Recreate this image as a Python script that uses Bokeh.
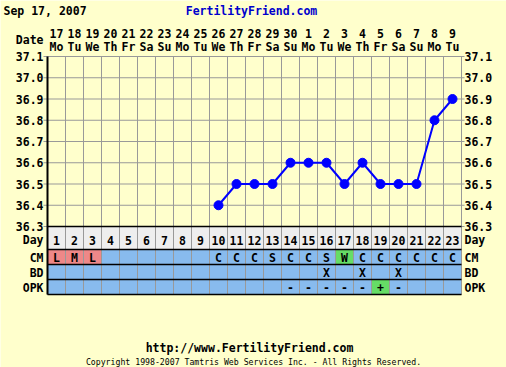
from bokeh.plotting import figure
from bokeh.models import ColumnDataSource
from bokeh.core.properties import value
from bokeh.embed import file_html
from bokeh.resources import INLINE

# ---------------- data ----------------
chart_date = "Sep 17, 2007"
site_name = "FertilityFriend.com"
site_url = "http://www.FertilityFriend.com"
copyright_text = "Copyright 1998-2007 Tamtris Web Services Inc. - All Rights Reserved."
date_header = "Date"

cycle_days = list(range(1, 24))
dates = ["17", "18", "19", "20", "21", "22", "23", "24", "25", "26", "27", "28",
         "29", "30", "1", "2", "3", "4", "5", "6", "7", "8", "9"]
weekdays = ["Mo", "Tu", "We", "Th", "Fr", "Sa", "Su", "Mo", "Tu", "We", "Th", "Fr",
            "Sa", "Su", "Mo", "Tu", "We", "Th", "Fr", "Sa", "Su", "Mo", "Tu"]

temp_days = [10, 11, 12, 13, 14, 15, 16, 17, 18, 19, 20, 21, 22, 23]
temps = [36.4, 36.5, 36.5, 36.5, 36.6, 36.6, 36.6, 36.5, 36.6, 36.5, 36.5, 36.5, 36.8, 36.9]

temp_ticks = [36.3, 36.4, 36.5, 36.6, 36.7, 36.8, 36.9, 37.0, 37.1]
temp_tick_labels = ["36.3", "36.4", "36.5", "36.6", "36.7", "36.8", "36.9", "37.0", "37.1"]

row_names = ["Day", "CM", "BD", "OPK"]
cm_values = ["L", "M", "L", "", "", "", "", "", "", "C", "C", "C", "S", "C", "C", "S",
             "W", "C", "C", "C", "C", "C", "C"]
bd_values = ["", "", "", "", "", "", "", "", "", "", "", "", "", "", "", "X",
             "", "X", "", "X", "", "", ""]
opk_values = ["", "", "", "", "", "", "", "", "", "", "", "", "", "-", "-", "-",
              "-", "-", "+", "-", "", "", ""]

# ---------------- styles / geometry ----------------
BG = "#FFFFCC"
GRID = "#999999"
BLUE_ROW = "#88BBEE"
DAY_ROW = "#EEEEEE"
CELL_COLORS = {"L": "#EE8888", "M": "#EE8888", "W": "#66DD66", "+": "#66DD66"}
FONT = value("DejaVu Sans Mono")
FS = "11.5px"

W, H = 506, 367
LEFT, RIGHT, TOP = 47, 461, 56                      # chart area in pixels
PX_PER_DEG = (226 - 56) / 0.8                        # 36.3 at y=226, 37.1 at y=56
COL_W = (RIGHT - LEFT) / 23.0


def yp(py):
    return 37.1 - (py - TOP) / PX_PER_DEG


def xp(px):
    return 0.5 + (px - LEFT) / COL_W


row_edges_px = [226, 249, 264, 279, 294]
row_top = [yp(v) for v in row_edges_px[:-1]]
row_bot = [yp(v) for v in row_edges_px[1:]]
row_center = [yp((a + b) / 2 + (2 if i == 0 else 0.5))
              for i, (a, b) in enumerate(zip(row_edges_px[:-1], row_edges_px[1:]))]

p = figure(width=W, height=H, x_range=(xp(0), xp(W)), y_range=(yp(H), yp(0)),
           output_backend="svg", toolbar_location=None, title=None,
           x_axis_type=None, y_axis_type=None, min_border=0)
p.background_fill_color = BG
p.border_fill_color = BG
p.outline_line_color = None
p.grid.visible = False

t_lo, t_hi = temp_ticks[0], temp_ticks[-1]

# chart grid
bounds = [d + 0.5 for d in cycle_days]
p.segment(x0=bounds, x1=bounds, y0=[t_lo] * len(bounds), y1=[t_hi] * len(bounds),
          line_color=GRID, line_width=1)
p.segment(x0=[xp(43)] * len(temp_ticks), x1=[xp(464)] * len(temp_ticks),
          y0=temp_ticks, y1=temp_ticks, line_color=GRID, line_width=1)

# table cells
rows_vals = [[str(d) for d in cycle_days], cm_values, bd_values, opk_values]
cx, ctop, cbot, ccol, ctext, cy = [], [], [], [], [], []
for r, vals in enumerate(rows_vals):
    for d, v in zip(cycle_days, vals):
        cx.append(d)
        ctop.append(row_top[r])
        cbot.append(row_bot[r])
        cy.append(row_center[r])
        ctext.append(v)
        ccol.append(DAY_ROW if r == 0 else CELL_COLORS.get(v, BLUE_ROW))

src = ColumnDataSource(dict(left=[x - 0.5 for x in cx], right=[x + 0.5 for x in cx],
                            top=ctop, bottom=cbot, color=ccol, x=cx, y=cy, text=ctext))
p.quad(left="left", right="right", top="top", bottom="bottom", fill_color="color",
       line_color=GRID, line_width=1, source=src)

# table row separators and left border
edges_y = [yp(v) for v in row_edges_px]
p.segment(x0=[0.5] * len(edges_y), x1=[23.5] * len(edges_y), y0=edges_y, y1=edges_y,
          line_color="black", line_width=1.5)
p.segment(x0=[0.5], x1=[0.5], y0=[edges_y[-1]], y1=[t_hi], line_color="black",
          line_width=2)

p.text(x="x", y="y", text="text", source=src, text_font=FONT, text_font_style="bold",
       text_font_size=FS, text_align="center", text_baseline="middle",
       text_color="black")

# temperature line
p.line(temp_days, temps, line_color="#0000FF", line_width=2)
p.scatter(temp_days, temps, marker="circle", size=9, fill_color="#0000FF",
          line_color="#0000FF")

txt = dict(text_font=FONT, text_font_style="bold", text_font_size=FS,
           text_baseline="middle", text_color="black")

# temperature tick labels, both sides
p.text(x=[xp(43)] * len(temp_ticks), y=temp_ticks, text=temp_tick_labels,
       text_align="right", **txt)
p.text(x=[xp(464)] * len(temp_ticks), y=temp_ticks, text=temp_tick_labels,
       text_align="left", **txt)

# row names, both sides
p.text(x=[xp(43)] * len(row_names), y=row_center, text=row_names,
       text_align="right", **txt)
p.text(x=[xp(464)] * len(row_names), y=row_center, text=row_names,
       text_align="left", **txt)

# date header
p.text(x=cycle_days, y=[yp(33)] * len(cycle_days), text=dates, text_align="center", **txt)
p.text(x=cycle_days, y=[yp(46)] * len(cycle_days), text=weekdays, text_align="center", **txt)
p.text(x=[xp(43)], y=[yp(39)], text=[date_header], text_align="right", **txt)

# title and footer
p.text(x=[xp(3)], y=[yp(10)], text=[chart_date], text_align="left", **txt)
p.text(x=[xp(251)], y=[yp(10)], text=[site_name], text_align="center",
       text_font=FONT, text_font_style="bold", text_font_size=FS,
       text_baseline="middle", text_color="#0000CC")
p.text(x=[xp(249)], y=[yp(347)], text=[site_url], text_align="center", **txt)
p.text(x=[xp(253)], y=[yp(361)], text=[copyright_text], text_align="center",
       text_font=FONT, text_font_size="8.2px", text_baseline="middle",
       text_color="black")

open("out.html", "w").write(file_html(p, INLINE))
